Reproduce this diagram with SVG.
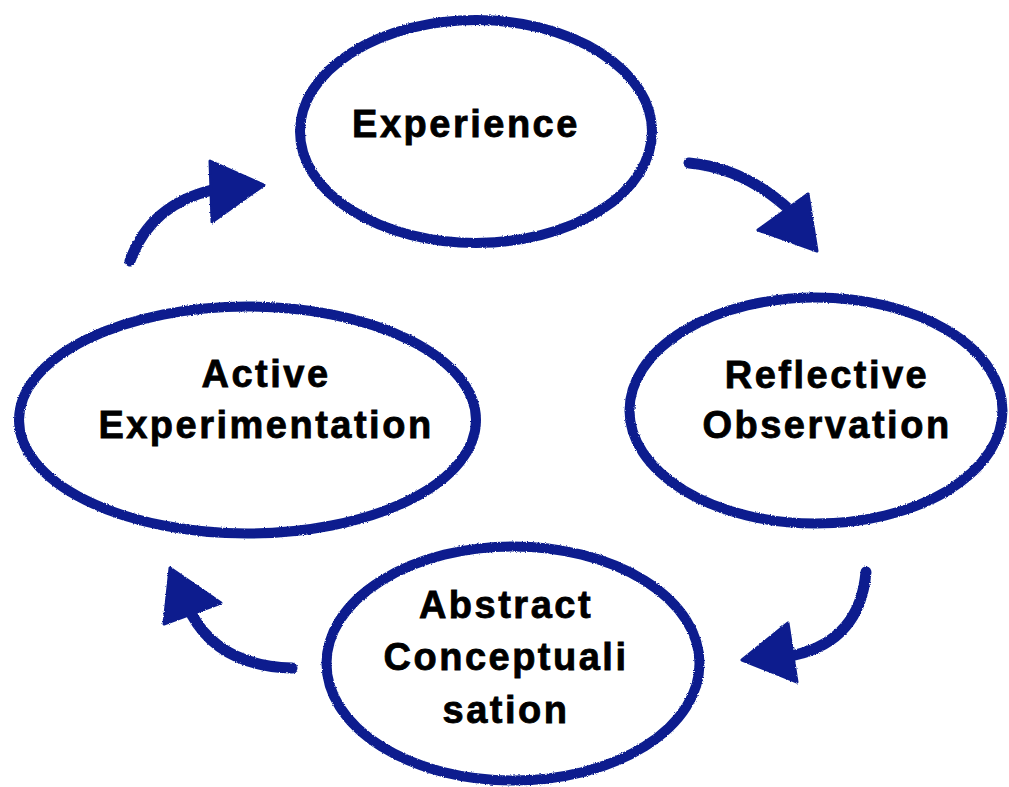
<svg xmlns="http://www.w3.org/2000/svg" width="1009" height="787" viewBox="0 0 1009 787">
  <defs>
    <filter id="chalk" x="-5%" y="-5%" width="110%" height="110%">
      <feTurbulence type="fractalNoise" baseFrequency="0.9" numOctaves="2" seed="3" result="n"/>
      <feDisplacementMap in="SourceGraphic" in2="n" scale="2.5" xChannelSelector="R" yChannelSelector="G"/>
    </filter>
  </defs>
  <style>
    .ring { fill: #ffffff; stroke: #0c1f8e; stroke-width: 10; }
    .shaft { fill: none; stroke: #0c1f8e; stroke-width: 11; stroke-linecap: round; }
    .head { fill: #0c1f8e; stroke: #0c1f8e; stroke-width: 3; stroke-linejoin: round; }
    .lbl { font-family: "Liberation Sans", Arial, Helvetica, sans-serif; font-weight: bold; font-size: 38px; letter-spacing: 2.5px; fill: #000000; stroke: #000000; stroke-width: 0.8; text-anchor: middle; }
  </style>
  <rect width="1009" height="787" fill="#ffffff"/>

  <g id="connectors" filter="url(#chalk)">
    <g id="arrow-active-to-experience">
      <path class="shaft" d="M130,261 Q150,205 212,190"/>
      <polygon class="head" points="210,161 264,185 212,222"/>
    </g>
    <g id="arrow-experience-to-reflective">
      <path class="shaft" d="M689,163 Q745,168 792,212"/>
      <polygon class="head" points="808,194 758,230 817,251"/>
    </g>
    <g id="arrow-reflective-to-abstract">
      <path class="shaft" d="M866,572 Q860,640 795,655"/>
      <polygon class="head" points="788,623 742,660 797,682"/>
    </g>
    <g id="arrow-abstract-to-active">
      <path class="shaft" d="M292,668 Q220,666 192,615"/>
      <polygon class="head" points="170,568 221,603 164,624"/>
    </g>
  </g>

  <g id="node-experience">
    <ellipse class="ring" filter="url(#chalk)" cx="476" cy="131.5" rx="176" ry="111.5"/>
    <text class="lbl" x="466" y="137">Experience</text>
  </g>

  <g id="node-reflective-observation">
    <ellipse class="ring" filter="url(#chalk)" cx="816" cy="410.5" rx="186.5" ry="113"/>
    <text class="lbl" x="827" y="388">Reflective</text>
    <text class="lbl" x="827" y="438">Observation</text>
  </g>

  <g id="node-abstract-conceptualisation">
    <ellipse class="ring" filter="url(#chalk)" cx="513" cy="663.5" rx="186.5" ry="117"/>
    <text class="lbl" x="506" y="618">Abstract</text>
    <text class="lbl" x="506" y="670">Conceptuali</text>
    <text class="lbl" x="506" y="723">sation</text>
  </g>

  <g id="node-active-experimentation">
    <ellipse class="ring" filter="url(#chalk)" cx="247.5" cy="420" rx="228.5" ry="113.5"/>
    <text class="lbl" x="266" y="387">Active</text>
    <text class="lbl" x="266" y="438">Experimentation</text>
  </g>
</svg>
